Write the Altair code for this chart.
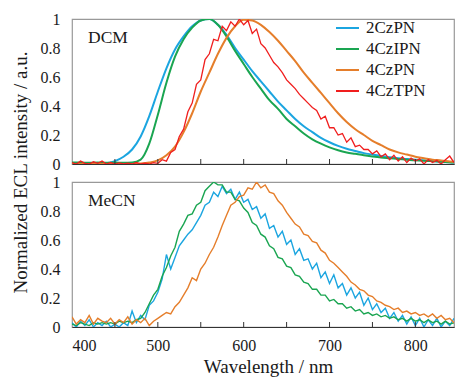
import altair as alt
import pandas as pd

FONT = "Liberation Serif"
TEXT_COLOR = "#1a1a1a"

series_names = ["2CzPN", "4CzIPN", "4CzPN", "4CzTPN"]
series_colors = ["#1ba5e0", "#1aa551", "#e57e2b", "#f01e1e"]

# wavelength grids (nm)
wl_smooth = [400, 410, 420, 430, 440, 450, 460, 470, 480, 490,
             500, 510, 520, 530, 540, 550, 560, 570, 580, 590,
             600, 610, 620, 630, 640, 650, 660, 670, 680, 690,
             700, 710, 720, 730, 740, 750, 760, 770, 780, 790,
             800, 810, 820, 830, 840, 845]
wl_noisy = list(range(400, 846, 5))

# ---- DCM (smooth curves, 10 nm grid) ----
dcm_2czpn = [0.0, 0.0, 0.0, 0.003, 0.006, 0.02, 0.05, 0.1, 0.19, 0.33,
             0.5, 0.66, 0.79, 0.88, 0.95, 0.99, 1.0, 0.96, 0.89, 0.8,
             0.72, 0.64, 0.57, 0.5, 0.43, 0.37, 0.31, 0.26, 0.22, 0.18,
             0.15, 0.125, 0.105, 0.09, 0.075, 0.065, 0.055, 0.047, 0.04, 0.035,
             0.03, 0.025, 0.02, 0.016, 0.012, 0.01]
dcm_4czipn = [0.01, 0.01, 0.008, 0.01, 0.008, 0.01, 0.008, 0.01, 0.03, 0.14,
              0.34, 0.56, 0.74, 0.86, 0.94, 0.99, 1.0, 0.96, 0.88, 0.78,
              0.69, 0.6, 0.52, 0.44, 0.38, 0.31, 0.26, 0.21, 0.17, 0.14,
              0.115, 0.095, 0.08, 0.07, 0.06, 0.052, 0.045, 0.04, 0.035, 0.03,
              0.025, 0.022, 0.02, 0.016, 0.012, 0.01]
dcm_4czpn = [0.0, 0.0, 0.0, 0.0, 0.0, 0.0, 0.0, 0.0, 0.003, 0.01,
             0.025, 0.06, 0.12, 0.22, 0.35, 0.5, 0.63, 0.76, 0.87, 0.95,
             0.995, 0.99, 0.96, 0.91, 0.85, 0.78, 0.71, 0.63, 0.56, 0.49,
             0.42, 0.35, 0.29, 0.24, 0.2, 0.16, 0.13, 0.1, 0.08, 0.065,
             0.05, 0.04, 0.03, 0.025, 0.018, 0.015]
# ---- DCM (noisy, 5 nm grid) ----
dcm_4cztpn = [0.01, 0.0, 0.02, 0.005, 0.0, 0.015, 0.005, 0.02, 0.0, 0.01,
              0.0, 0.008, 0.0, 0.005, 0.0, 0.01, 0.0, 0.005, 0.0, 0.01,
              0.005, 0.03, 0.02, 0.08, 0.1, 0.19, 0.24, 0.36, 0.42, 0.55,
              0.58, 0.72, 0.76, 0.86, 0.85, 0.95, 0.92, 0.98, 0.95, 1.0,
              0.96, 0.99, 0.9, 0.93, 0.83, 0.8, 0.75, 0.7, 0.67, 0.63,
              0.58, 0.55, 0.52, 0.48, 0.45, 0.42, 0.39, 0.37, 0.31, 0.33,
              0.25, 0.25, 0.2, 0.21, 0.15, 0.18, 0.12, 0.13, 0.1, 0.1,
              0.07, 0.09, 0.05, 0.07, 0.03, 0.06, 0.02, 0.05, 0.01, 0.04,
              0.02, 0.035, 0.0, 0.03, 0.01, 0.025, 0.0, 0.03, 0.055, 0.01]

# ---- MeCN (noisy, 5 nm grid) ----
mecn_2czpn = [0.03, 0.0, 0.04, 0.01, 0.05, 0.0, 0.03, 0.01, 0.04, 0.0,
              0.02, 0.0, 0.03, 0.01, 0.11, 0.03, 0.08, 0.05, 0.15, 0.18,
              0.24, 0.33, 0.5, 0.4, 0.48, 0.56, 0.6, 0.64, 0.67, 0.72,
              0.77, 0.84, 0.86, 0.93, 0.9, 0.97, 0.92, 0.95, 0.88, 0.93,
              0.86, 0.88, 0.81, 0.83, 0.75, 0.78, 0.68, 0.7, 0.62, 0.66,
              0.57, 0.6, 0.5, 0.54, 0.46, 0.47, 0.4, 0.44, 0.34, 0.38,
              0.3, 0.36, 0.27, 0.3, 0.22, 0.27, 0.2, 0.24, 0.15, 0.2,
              0.12, 0.16, 0.1, 0.13, 0.06, 0.1, 0.04, 0.08, 0.02, 0.07,
              0.01, 0.06, 0.0, 0.05, 0.01, 0.06, 0.0, 0.04, 0.01, 0.06]
mecn_4czipn = [0.02, 0.01, 0.03, 0.02, 0.01, 0.03, 0.02, 0.03, 0.02, 0.03,
               0.02, 0.04, 0.03, 0.04, 0.03, 0.05, 0.06, 0.1, 0.16, 0.22,
               0.26, 0.35, 0.41, 0.49, 0.55, 0.66, 0.71, 0.77, 0.78, 0.84,
               0.86, 0.94, 0.97, 1.0, 0.98, 0.98, 0.93, 0.93, 0.88, 0.87,
               0.82, 0.79, 0.72, 0.7, 0.64, 0.62, 0.56, 0.54, 0.48, 0.47,
               0.42, 0.41, 0.36, 0.35, 0.31, 0.3, 0.26, 0.26, 0.22, 0.22,
               0.18, 0.19, 0.16, 0.16, 0.13, 0.14, 0.11, 0.12, 0.09, 0.1,
               0.08, 0.09, 0.07, 0.08, 0.06, 0.07, 0.05, 0.06, 0.04, 0.06,
               0.04, 0.05, 0.03, 0.05, 0.03, 0.04, 0.02, 0.04, 0.02, 0.03]
mecn_4czpn = [0.07, 0.02, 0.05, 0.03, 0.08, 0.02, 0.06, 0.04, 0.03, 0.06,
              0.02, 0.05, 0.03, 0.07, 0.02, 0.05, 0.03, 0.06, 0.01, 0.04,
              0.06, 0.08, 0.1, 0.09, 0.14, 0.17, 0.22, 0.27, 0.34, 0.32,
              0.4, 0.44, 0.5, 0.55, 0.62, 0.7, 0.77, 0.84, 0.86, 0.9,
              0.91, 0.96, 0.95, 1.0, 0.96, 0.98, 0.93, 0.92, 0.87, 0.84,
              0.79, 0.75, 0.71, 0.69, 0.64, 0.63, 0.59, 0.58, 0.53, 0.51,
              0.46, 0.44, 0.41, 0.38, 0.35, 0.31, 0.29, 0.26, 0.25, 0.22,
              0.21, 0.18, 0.17, 0.15, 0.14, 0.12, 0.13, 0.1, 0.11, 0.09,
              0.1, 0.08, 0.09, 0.07, 0.09, 0.06, 0.08, 0.05, 0.06, 0.03]

x_label_values = [400, 500, 600, 700, 800]
x_tick_values = [450, 500, 550, 600, 650, 700, 750, 800]
y_values = [0, 0.2, 0.4, 0.6, 0.8, 1]
panel_labels = ["DCM", "MeCN"]
y_title = "Normalized ECL intensity / a.u."
x_title = "Wavelength / nm"


def long_df(wl, vals, name):
    return pd.DataFrame({"wl": wl, "v": vals, "s": name})


dcm_smooth_df = pd.concat([
    long_df(wl_smooth, dcm_2czpn, "2CzPN"),
    long_df(wl_smooth, dcm_4czipn, "4CzIPN"),
    long_df(wl_smooth, dcm_4czpn, "4CzPN"),
])
dcm_noisy_df = long_df(wl_noisy, dcm_4cztpn, "4CzTPN")
mecn_noisy_df = pd.concat([
    long_df(wl_noisy, mecn_2czpn, "2CzPN"),
    long_df(wl_noisy, mecn_4czipn, "4CzIPN"),
    long_df(wl_noisy, mecn_4czpn, "4CzPN"),
])
ticks_df = pd.DataFrame({"wl": x_tick_values})

W, H = 382, 145
x_scale = alt.Scale(domain=[400, 845], nice=False, zero=False)
y_scale = alt.Scale(domain=[0, 1], nice=False)

color_enc = alt.Color(
    "s:N",
    scale=alt.Scale(domain=series_names, range=series_colors),
    legend=alt.Legend(
        title=None, orient="none", legendX=263, legendY=-3.5,
        symbolType="stroke", symbolSize=529, symbolStrokeWidth=2,
        labelFont=FONT, labelFontSize=17, labelColor=TEXT_COLOR,
        labelOffset=6, rowPadding=-4.7, padding=0,
    ),
)

label_expr = ("datum.value == 0 ? '0' : datum.value == 1 ? '1' : "
              "format(datum.value, '.1f')")


def y_axis(with_title):
    kw = dict(values=y_values, labelExpr=label_expr, ticks=False, domain=False,
              grid=False, labelPadding=12, labelFont=FONT, labelFontSize=16,
              labelColor=TEXT_COLOR, labelOverlap=False, labelBound=False)
    if with_title:
        kw.update(titleFont=FONT, titleFontSize=19, titleFontWeight="normal",
                  titleColor=TEXT_COLOR, titleAngle=270, titleX=-46,
                  titleY=153, titleAlign="center",
                  titleBaseline="alphabetic")
    return alt.Axis(**kw)


def x_axis(bottom):
    if bottom:
        return alt.Axis(values=x_label_values, ticks=False, grid=False,
                        domainColor="#333", domainWidth=1.2,
                        labelFont=FONT, labelFontSize=16,
                        labelColor=TEXT_COLOR, labelPadding=10,
                        labelOverlap=False,
                        titleFont=FONT, titleFontSize=19,
                        titleFontWeight="normal", titleColor=TEXT_COLOR,
                        titleX=196, titleY=45, titleBaseline="alphabetic",
                        titleAlign="center")
    return alt.Axis(values=x_label_values, ticks=False, grid=False,
                    labels=False, domainColor="#333", domainWidth=1.2)


def panel(main_df, extra_df, label, bottom):
    xa = x_axis(bottom)
    ya = y_axis(not bottom)
    xt = x_title if bottom else None
    yt = None if bottom else y_title

    def enc(chart):
        return chart.encode(
            x=alt.X("wl:Q", scale=x_scale, axis=xa, title=xt),
            y=alt.Y("v:Q", scale=y_scale, axis=ya, title=yt),
            color=color_enc,
            detail="s:N",
        )

    layers = []
    if bottom:
        layers.append(enc(alt.Chart(main_df).mark_line(strokeWidth=1.4,
                                                       clip=True)))
    else:
        layers.append(enc(alt.Chart(main_df).mark_line(
            interpolate="monotone", strokeWidth=2, clip=True)))
    if extra_df is not None:
        layers.append(enc(alt.Chart(extra_df).mark_line(strokeWidth=1.3,
                                                        clip=True)))
    layers.append(
        alt.Chart(ticks_df).mark_rule(color="#333", strokeWidth=1).encode(
            x=alt.X("wl:Q", scale=x_scale, axis=xa, title=xt),
            y=alt.value(H),
            y2=alt.value(H - 5),
        )
    )
    layers.append(
        alt.Chart(pd.DataFrame({"t": [label]})).mark_text(
            font=FONT, fontSize=17.5, align="left", baseline="middle",
            color=TEXT_COLOR,
        ).encode(text="t:N", x=alt.value(16), y=alt.value(19))
    )
    return alt.layer(*layers).properties(width=W, height=H)


top = panel(dcm_smooth_df, dcm_noisy_df, panel_labels[0], False)
bottom = panel(mecn_noisy_df, None, panel_labels[1], True)

chart = alt.vconcat(top, bottom, spacing=18, bounds="flush").properties(
    padding={"left": 10, "top": 10, "right": 0, "bottom": 0},
    background="white",
).configure_view(stroke="#999", strokeWidth=1.2)

chart.save("out.html", embed_options={"renderer": "svg", "actions": False})
